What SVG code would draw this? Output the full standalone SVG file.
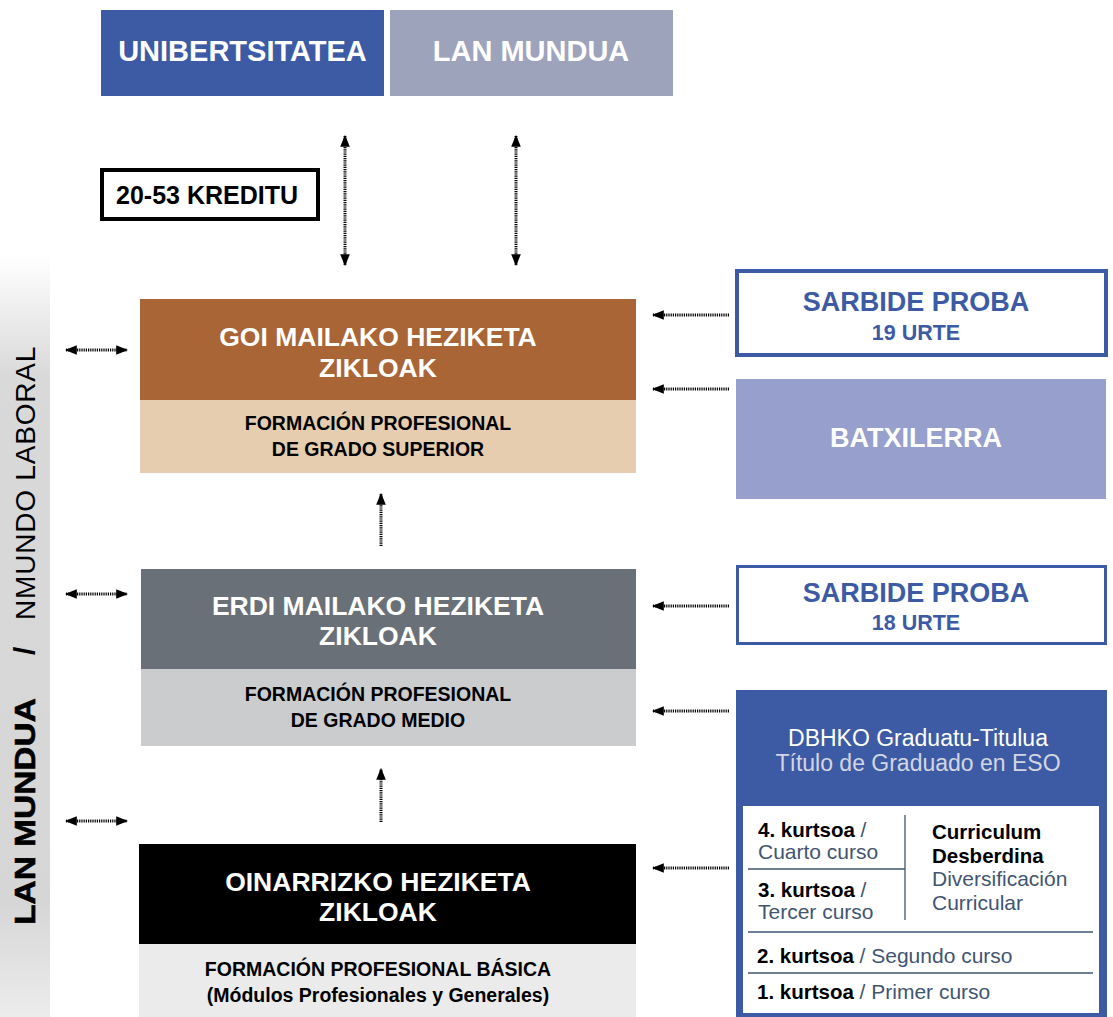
<svg xmlns="http://www.w3.org/2000/svg" width="1113" height="1017" viewBox="0 0 1113 1017">
<defs>
<linearGradient id="band" x1="0" y1="0" x2="0" y2="1">
<stop offset="0" stop-color="#ffffff"/>
<stop offset="0.16" stop-color="#d9d9d9"/>
<stop offset="0.85" stop-color="#d6d6d6"/>
<stop offset="1" stop-color="#ececec"/>
</linearGradient>
<marker id="ah" viewBox="0 0 10 10" refX="9" refY="5" markerWidth="4" markerHeight="4" orient="auto-start-reverse" markerUnits="strokeWidth">
<path d="M0,1 L10,5 L0,9 z" fill="#000"/>
</marker>
</defs>
<style>
text{font-family:"Liberation Sans",Arial,sans-serif}
.b{font-weight:bold}
.w{fill:#fff}
.h{font-size:26.5px;font-weight:bold;fill:#fff;text-anchor:middle}
.s{font-size:19.5px;font-weight:bold;fill:#000;text-anchor:middle}
.ar{stroke:#000;stroke-width:3;stroke-dasharray:1.2 1;fill:none}
.arh{stroke:#000;stroke-width:3;stroke-dasharray:1.2 1;fill:none;marker-end:url(#ah)}
.arb{stroke:#000;stroke-width:3;stroke-dasharray:1.2 1;fill:none;marker-start:url(#ah);marker-end:url(#ah)}
.k{font-size:20.5px;fill:#000;font-weight:bold}
.sp{font-size:21px;fill:#3f5571;font-weight:normal}
.ln{stroke:#3f5571;stroke-width:1.3}
</style>
<rect width="1113" height="1017" fill="#fff"/>

<g id="side-band">
<rect x="0" y="255" width="50" height="762" fill="url(#band)"/>
<text transform="translate(35,925) rotate(-90) scale(1.155,1)" font-size="29" font-weight="bold" fill="#000" stroke="#000" stroke-width="0.6">LAN MUNDUA</text>
<text transform="translate(35,655) rotate(-90)" font-size="30" font-weight="bold" fill="#000">/</text>
<text transform="translate(35,620) rotate(-90)" font-size="28" letter-spacing="0.8" fill="#000">NMUNDO LABORAL</text>
</g>

<g id="unibertsitatea">
<rect x="101" y="10" width="283" height="86" fill="#3d5ba5"/>
<text x="242.5" y="61" class="b w" font-size="29" text-anchor="middle">UNIBERTSITATEA</text>
</g>
<g id="lan-mundua">
<rect x="390" y="10" width="283" height="86" fill="#9ea3bc"/>
<text x="531" y="61" class="b w" font-size="29" text-anchor="middle">LAN MUNDUA</text>
</g>

<g id="kreditu">
<rect x="102" y="170" width="216" height="49" fill="#fff" stroke="#000" stroke-width="4"/>
<text x="207" y="204" class="b" font-size="25" text-anchor="middle" fill="#000">20-53 KREDITU</text>
</g>

<g id="goi">
<rect x="140" y="299" width="496" height="101" fill="#a96536"/>
<rect x="140" y="400" width="496" height="73" fill="#e7cdb0"/>
<text x="378" y="346" class="h">GOI MAILAKO HEZIKETA</text>
<text x="378" y="377" class="h">ZIKLOAK</text>
<text x="378" y="430" class="s">FORMACIÓN PROFESIONAL</text>
<text x="378" y="456" class="s">DE GRADO SUPERIOR</text>
</g>

<g id="erdi">
<rect x="141" y="569" width="495" height="100" fill="#6a7077"/>
<rect x="141" y="669" width="495" height="77" fill="#cbcccd"/>
<text x="378" y="615" class="h">ERDI MAILAKO HEZIKETA</text>
<text x="378" y="645" class="h">ZIKLOAK</text>
<text x="378" y="701" class="s">FORMACIÓN PROFESIONAL</text>
<text x="378" y="727" class="s">DE GRADO MEDIO</text>
</g>

<g id="oinarrizko">
<rect x="139" y="844" width="497" height="100" fill="#000"/>
<rect x="139" y="944" width="497" height="73" fill="#ebebeb"/>
<text x="378" y="891" class="h">OINARRIZKO HEZIKETA</text>
<text x="378" y="921" class="h">ZIKLOAK</text>
<text x="378" y="976" class="s">FORMACIÓN PROFESIONAL BÁSICA</text>
<text x="378" y="1002" class="s">(Módulos Profesionales y Generales)</text>
</g>

<g id="sarbide-19">
<rect x="737" y="271" width="369" height="84" fill="#fff" stroke="#3d5ba5" stroke-width="4"/>
<text x="916" y="311" class="b" font-size="27" fill="#3d5ba5" text-anchor="middle">SARBIDE PROBA</text>
<text x="916" y="340" font-size="21.5" fill="#3d5ba5" text-anchor="middle" font-weight="bold">19 URTE</text>
</g>

<g id="batxilerra">
<rect x="736" y="379" width="370" height="120" fill="#97a0cd"/>
<text x="916" y="447" class="b w" font-size="27" text-anchor="middle">BATXILERRA</text>
</g>

<g id="sarbide-18">
<rect x="737.5" y="566.5" width="368" height="77" fill="#fff" stroke="#3d5ba5" stroke-width="3"/>
<text x="916" y="602" class="b" font-size="27" fill="#3d5ba5" text-anchor="middle">SARBIDE PROBA</text>
<text x="916" y="630" font-size="21.5" fill="#3d5ba5" text-anchor="middle" font-weight="bold">18 URTE</text>
</g>

<g id="dbhko">
<rect x="736" y="690" width="371" height="327" fill="#3d5ba5"/>
<rect x="743" y="806" width="356" height="207" fill="#fff"/>
<text x="918" y="746" font-size="23" fill="#fff" text-anchor="middle">DBHKO Graduatu-Titulua</text>
<text x="918" y="771" font-size="23" fill="#d3d6e0" text-anchor="middle">Título de Graduado en ESO</text>
<line class="ln" x1="905" y1="815" x2="905" y2="920"/>
<line class="ln" x1="748" y1="869" x2="905" y2="869"/>
<line class="ln" x1="748" y1="932" x2="1093" y2="932"/>
<line class="ln" x1="748" y1="973" x2="1093" y2="973"/>
<text x="758" y="837" class="k">4. kurtsoa <tspan class="sp" fill="#000">/</tspan></text>
<text x="758" y="859" class="sp">Cuarto curso</text>
<text x="758" y="897" class="k">3. kurtsoa <tspan class="sp" fill="#000">/</tspan></text>
<text x="758" y="919" class="sp">Tercer curso</text>
<text x="932" y="839" class="k">Curriculum</text>
<text x="932" y="863" class="k">Desberdina</text>
<text x="932" y="886" class="sp">Diversificación</text>
<text x="932" y="910" class="sp">Curricular</text>
<text x="757" y="963" class="k">2. kurtsoa <tspan class="sp" fill="#000">/</tspan><tspan class="sp"> Segundo curso</tspan></text>
<text x="757" y="999" class="k">1. kurtsoa <tspan class="sp" fill="#000">/</tspan><tspan class="sp"> Primer curso</tspan></text>
</g>

<g id="connectors">
<line class="arb" x1="345" y1="136" x2="345" y2="265"/>
<line class="arb" x1="516" y1="136" x2="516" y2="265"/>
<line class="arb" x1="66" y1="350" x2="127" y2="350"/>
<line class="arb" x1="66" y1="594" x2="127" y2="594"/>
<line class="arb" x1="66" y1="821" x2="127" y2="821"/>
<line class="arh" x1="381" y1="546" x2="381" y2="494"/>
<line class="arh" x1="381" y1="822" x2="381" y2="769"/>
<line class="arh" x1="729" y1="315" x2="653" y2="315"/>
<line class="arh" x1="729" y1="389" x2="653" y2="389"/>
<line class="arh" x1="729" y1="606" x2="653" y2="606"/>
<line class="arh" x1="729" y1="711" x2="653" y2="711"/>
<line class="arh" x1="729" y1="868" x2="653" y2="868"/>
</g>
</svg>
